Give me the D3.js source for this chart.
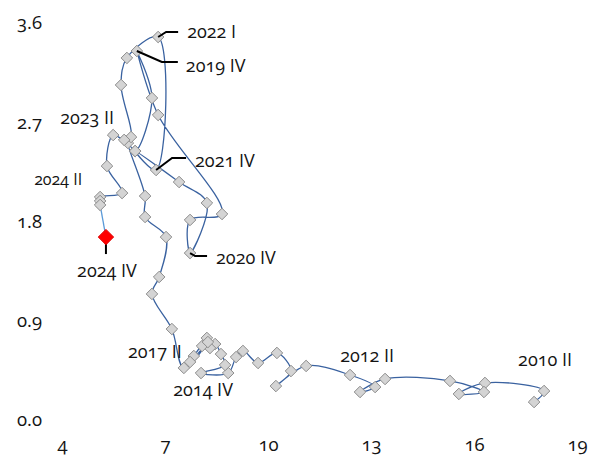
<!DOCTYPE html>
<html>
<head>
<meta charset="utf-8">
<script src="https://cdn.jsdelivr.net/npm/d3@7"></script>
<style>
  body { margin: 0; background: #fff; }
  svg text { font-family: "Open Sans", "Noto Sans", sans-serif; fill: #141414;
             font-variant-numeric: oldstyle-nums; }
</style>
</head>
<body>
<svg id="chart" width="591" height="455"></svg>
<script>
// unemployment rate (x) and vacancy rate (y), quarterly 2010 II .. 2024 IV
var unemp = [17.75, 18.04, 16.32, 15.56, 16.29, 15.30, 13.41, 12.68, 13.12, 12.39,
             11.11, 10.23, 10.67, 10.26, 9.71, 9.27, 9.07, 8.84, 8.05, 8.75,
             8.63, 8.46, 8.31, 8.08, 8.22, 7.84, 7.73, 8.25, 7.55, 7.20,
             6.62, 6.83, 7.03, 6.42, 6.42, 5.92, 6.13, 6.62, 6.18, 6.80,
             8.66, 7.73, 7.73, 8.22, 7.41, 6.13, 6.74, 6.80, 5.89, 5.72,
             6.01, 5.81, 5.49, 5.31, 5.75, 5.11, 5.11, 5.11, 5.28];
var vacancy = [0.163, 0.263, 0.336, 0.236, 0.254, 0.354, 0.372, 0.254, 0.299, 0.408,
               0.490, 0.308, 0.444, 0.608, 0.517, 0.626, 0.571, 0.426, 0.426, 0.499,
               0.598, 0.689, 0.653, 0.671, 0.744, 0.580, 0.526, 0.707, 0.472, 0.825,
               1.143, 1.297, 1.659, 1.841, 2.031, 2.512, 2.439, 2.920, 3.346, 2.766,
               1.868, 1.814, 1.514, 1.968, 2.158, 2.439, 2.267, 3.473, 3.283, 3.038,
               2.566, 2.540, 2.584, 2.303, 2.058, 2.022, 1.986, 1.950, 1.659];
var xTicks = [4, 7, 10, 13, 16, 19];
var yTicks = [0.0, 0.9, 1.8, 2.7, 3.6];

// labelled quarters: index into the series and the text shown
var labelIdx  = [0, 8, 18, 28, 38, 42, 46, 47, 52, 56, 58];
var labelText = ["2010 II", "2012 II", "2014 IV", "2017 II", "2019 IV", "2020 IV",
                 "2021 IV", "2022 I", "2023 II", "2024 II", "2024 IV"];

// where each label sits relative to its point (pixels) + optional leader line
var labelLayout = {
  "2010 II": {dx: 11, dy: -42, anchor: "middle"},
  "2012 II": {dx: -8, dy: -31, anchor: "middle"},
  "2014 IV": {dx: 2, dy: 17, anchor: "middle"},
  "2017 II": {dx: -29, dy: -16, anchor: "middle"},
  "2019 IV": {dx: 49, dy: 15, anchor: "start", leader: [[0, 0], [25, 11], [41, 11]]},
  "2020 IV": {dx: 26, dy: 5, anchor: "start", leader: [[0, 0], [5, 3], [17, 3]]},
  "2021 IV": {dx: 39, dy: -9, anchor: "start", leader: [[0, 0], [16, -12], [30, -12]]},
  "2022 I":  {dx: 29, dy: -5, anchor: "start", leader: [[0, 0], [8, -5], [20, -5]]},
  "2023 II": {dx: -26, dy: -17, anchor: "middle"},
  "2024 II": {dx: -42, dy: -22, anchor: "middle", size: 16},
  "2024 IV": {dx: 1, dy: 34, anchor: "middle", leader: [[0, 0], [0, 17]]}
};

var svg = d3.select("#chart");

var x = d3.scaleLinear().domain([4, 19]).range([62, 577]);
var y = d3.scaleLinear().domain([0, 3.6]).range([420, 23]);

var data = unemp.map(function(u, i) { return {u: u, v: vacancy[i]}; });

// axes: only tick labels, no lines
var xAxis = d3.axisBottom(x).tickValues(xTicks).tickSize(0).tickPadding(0)
    .tickFormat(d3.format("d"));
svg.append("g").attr("transform", "translate(0,445)").call(xAxis)
    .call(function(g) { g.select(".domain").remove(); })
    .selectAll("text").attr("dy", "0.35em").style("font-size", "18.5px");

var yAxis = d3.axisLeft(y).tickValues(yTicks).tickSize(0).tickPadding(0)
    .tickFormat(d3.format(".1f"));
svg.append("g").attr("transform", "translate(42,0)").call(yAxis)
    .call(function(g) { g.select(".domain").remove(); })
    .selectAll("text").style("font-size", "18.5px");

var line = d3.line()
    .x(function(d) { return x(d.u); })
    .y(function(d) { return y(d.v); })
    .curve(d3.curveCatmullRom.alpha(0.5));

// main path up to 2024 III, last stretch in lighter blue
var last = data.length - 1;
svg.append("path")
    .datum(data.slice(0, last))
    .attr("d", line)
    .attr("fill", "none")
    .attr("stroke", "#3a62a0")
    .attr("stroke-width", 1.3);

svg.append("path")
    .datum(data.slice(last - 1))
    .attr("d", line)
    .attr("fill", "none")
    .attr("stroke", "#5a9ad8")
    .attr("stroke-width", 1.3);

var diamond = d3.symbol().type(d3.symbolDiamond2);

svg.selectAll(".pt")
    .data(data.slice(0, last))
  .enter().append("path")
    .attr("class", "pt")
    .attr("transform", function(d) { return "translate(" + x(d.u) + "," + y(d.v) + ")"; })
    .attr("d", diamond.size(85))
    .attr("fill", "#d4d4d4")
    .attr("stroke", "#8c8c8c")
    .attr("stroke-width", 1);

// leader lines and labels
labelIdx.forEach(function(idx, k) {
  var t = labelText[k], lay = labelLayout[t];
  var px = x(data[idx].u), py = y(data[idx].v);
  if (lay.leader) {
    svg.append("path")
      .attr("d", d3.line()(lay.leader.map(function(p) { return [px + p[0], py + p[1]]; })))
      .attr("fill", "none")
      .attr("stroke", "#000")
      .attr("stroke-width", 2);
  }
  svg.append("text")
    .attr("x", px + lay.dx)
    .attr("y", py + lay.dy)
    .attr("dy", "0.35em")
    .attr("text-anchor", lay.anchor)
    .style("font-size", (lay.size || 18) + "px")
    .text(t);
});

// final quarter in red, drawn on top
svg.append("path")
    .attr("transform", "translate(" + x(data[last].u) + "," + y(data[last].v) + ")")
    .attr("d", diamond.size(150))
    .attr("fill", "#ff0000")
    .attr("stroke", "#e00000")
    .attr("stroke-width", 1);
</script>
</body>
</html>
